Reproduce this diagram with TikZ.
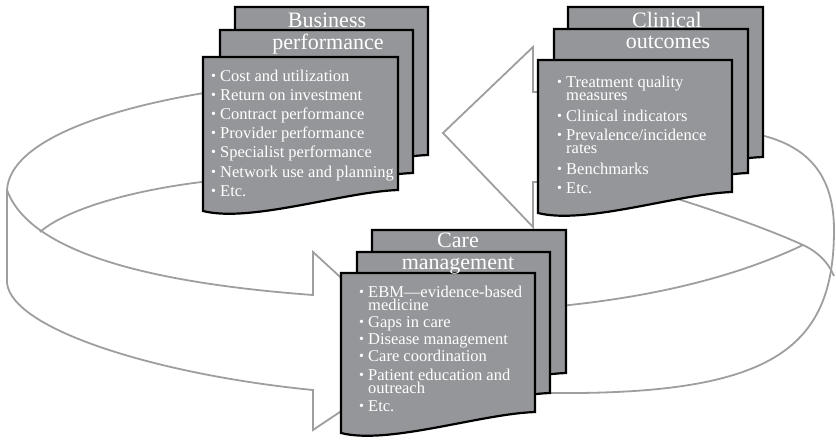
\documentclass[tikz,border=0pt]{standalone}
\usepackage{fontspec}
\setmainfont{Liberation Serif}
\definecolor{boxgray}{RGB}{148,150,153}
\definecolor{ringgray}{RGB}{158,158,160}
\newcommand\bul{\makebox[9pt][l]{\raisebox{0.9pt}{\fontsize{14}{14}\selectfont •}}}
\newcommand\wrapitem[2]{\vtop{\baselineskip=13.5pt\lineskiplimit=-30pt\lineskip=0pt\hbox{\bul #1}\hbox{\hspace{9pt}#2}}}
\newcommand\docpage[4]{\draw[pagebox] (#1,#2) -- (#3,#2) -- (#3,#4) .. controls ({#3-55},{#4+2}) and ({#1+47},{#4+33}) .. (#1,{#4+21}) -- cycle;}
\tikzset{
  pagebox/.style={draw=black, line width=2.2pt, fill=boxgray, line join=miter},
  ring/.style={draw=ringgray, line width=1.8pt, line join=miter},
  item/.style={anchor=base west, inner sep=0pt, text=white, font=\fontsize{16.5}{16.5}\selectfont},
  ttl/.style={anchor=base, inner sep=0pt, text=white, font=\fontsize{22}{22}\selectfont}
}
\begin{document}
\begin{tikzpicture}[x=1pt,y=-1pt]
\useasboundingbox (0,0) rectangle (836,445);
% ---- ring: left band with arrow into care management
\coordinate (lt) at (210,92);
\coordinate (lc) at (7,190);
\coordinate (lb) at (7,283);
\coordinate (an1) at (313,390);
\coordinate (an2) at (313,430);
\coordinate (atip) at (425,355);
\coordinate (an3) at (313,252);
\coordinate (an4) at (313,295);
\coordinate (li1) at (210,181);
\coordinate (li2) at (40,232);
\draw[ring] (lt) .. controls (110,108) and (10,140) .. (lc) -- (lb)
  .. controls (12,330) and (160,375) .. (an1) -- (an2) -- (atip) -- (an3) -- (an4)
  .. controls (110,280) and (25,240) .. (lc);
\draw[ring] (li1) .. controls (130,190) and (65,210) .. (li2);
% ---- ring: right band
\coordinate (rt) at (756,134);
\coordinate (rr) at (834,230);
\coordinate (rb) at (551,393);
\coordinate (ri1) at (665,195);
\coordinate (rx) at (803,245);
\coordinate (rj) at (834,276);
\coordinate (ri2) at (560,306);
\draw[ring] (rt) .. controls (808,145) and (834,175) .. (rr)
  .. controls (834,350) and (770,395) .. (rb);
\draw[ring] (ri1) .. controls (720,212) and (770,230) .. (rx)
  .. controls (818,252) and (828,262) .. (rj);
\draw[ring] (rx) .. controls (740,275) and (660,296) .. (ri2);
% ---- arrow into clinical outcomes
\coordinate (ta1) at (545,92);
\coordinate (ta2) at (533,92);
\coordinate (ta3) at (533,47);
\coordinate (ttip) at (443,133);
\coordinate (ta4) at (533,227);
\coordinate (ta5) at (533,182);
\coordinate (ta6) at (545,182);
\draw[ring] (ta1) -- (ta2) -- (ta3) -- (ttip) -- (ta4) -- (ta5) -- (ta6);
% ---- business performance stack
\docpage{235}{7}{428}{155}
\docpage{220}{30}{413}{173}
\docpage{203}{57}{398}{190}
\node[ttl] (bt1) at (327,27) {Business};
\node[ttl] (bt2) at (328,49) {performance};
\node[item] (b1) at (211,81) {\bul Cost and utilization};
\node[item] (b2) at (211,100) {\bul Return on investment};
\node[item] (b3) at (211,119) {\bul Contract performance};
\node[item] (b4) at (211,138) {\bul Provider performance};
\node[item] (b5) at (211,157) {\bul Specialist performance};
\node[item] (b6) at (211,177) {\bul Network use and planning};
\node[item] (b7) at (211,196) {\bul Etc.};
% ---- clinical outcomes stack
\docpage{568}{7}{763}{157}
\docpage{554}{29}{748}{173}
\docpage{538}{60}{732}{192}
\node[ttl] (ct1) at (667,27) {Clinical};
\node[ttl] (ct2) at (668,48) {outcomes};
\node[item] (c1) at (557,87) {\wrapitem{Treatment quality}{measures}};
\node[item] (c2) at (557,121) {\bul Clinical indicators};
\node[item] (c3) at (557,140) {\wrapitem{Prevalence/incidence}{rates}};
\node[item] (c4) at (557,174) {\bul Benchmarks};
\node[item] (c5) at (557,193) {\bul Etc.};
% ---- care management stack
\docpage{372}{230}{566}{373}
\docpage{357}{252}{550}{393}
\docpage{341}{273}{535}{412}
\node[ttl] (mt1) at (458,247) {Care};
\node[ttl] (mt2) at (458,269) {management};
\node[item] (m1) at (359,297) {\wrapitem{EBM—evidence-based}{medicine}};
\node[item] (m2) at (359,327) {\bul Gaps in care};
\node[item] (m3) at (359,344) {\bul Disease management};
\node[item] (m4) at (359,361) {\bul Care coordination};
\node[item] (m5) at (359,380) {\wrapitem{Patient education and}{outreach}};
\node[item] (m6) at (359,411) {\bul Etc.};
\end{tikzpicture}
\end{document}
